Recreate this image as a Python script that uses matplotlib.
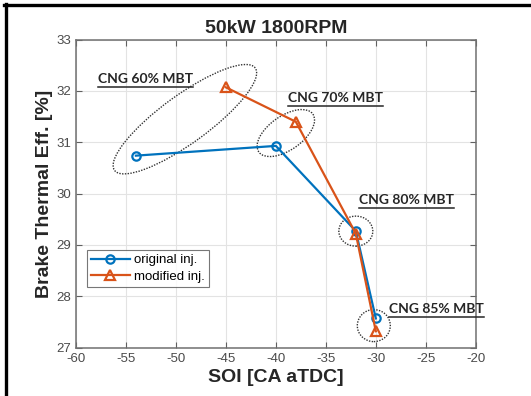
import matplotlib
matplotlib.use('Agg')
import matplotlib.pyplot as plt
from matplotlib.patches import Ellipse
from matplotlib.lines import Line2D
from matplotlib.transforms import ScaledTranslation

# data
soi_original = [-54, -40, -32, -30]
bte_original = [30.74, 30.93, 29.27, 27.57]
soi_modified = [-45, -38, -32, -30]
bte_modified = [32.07, 31.40, 29.22, 27.32]

# annotation groups: label, text anchor (data), ellipse centre (data), size in px, angle
labels = ['CNG 60% MBT', 'CNG 70% MBT', 'CNG 80% MBT', 'CNG 85% MBT']
label_xy = [(-57.8, 32.23), (-38.8, 31.86), (-31.7, 29.87), (-28.7, 27.75)]
ell_centre = [(-49.1, 31.45), (-39.0, 31.18), (-32.0, 29.27), (-30.2, 27.43)]
ell_size = [(174, 48), (66, 34), (34, 30), (33, 32)]
ell_angle = [36, 35, 0, 0]

BLUE = '#0072BD'
ORANGE = '#D95319'
DARK = '#262626'

plt.rcParams['font.family'] = ['Liberation Sans', 'DejaVu Sans']
plt.rcParams['axes.unicode_minus'] = False

fig = plt.figure(figsize=(5.31, 3.96), dpi=100)
ax = fig.add_axes([0.143, 0.122, 0.753, 0.778])

ax.plot(soi_original, bte_original, '-o', color=BLUE, lw=1.6, ms=6,
        mfc='none', mew=1.6, label='original inj.', zorder=3)
ax.plot(soi_modified, bte_modified, '-^', color=ORANGE, lw=1.6, ms=6.5,
        mfc='none', mew=1.6, label='modified inj.', zorder=3)

ax.set_xlim(-60, -20)
ax.set_ylim(27, 33)
ax.set_xticks(range(-60, -19, 5))
ax.set_yticks(range(27, 34))
ax.grid(True, color='#e3e3e3', lw=0.8)
ax.set_axisbelow(True)
ax.tick_params(direction='in', top=True, right=True, length=4, width=0.8,
               colors='#606060', labelcolor='#4a4a4a', labelsize=9.5)
for s in ax.spines.values():
    s.set_color('#707070')
    s.set_linewidth(1.1)

ax.set_title('50kW 1800RPM', fontsize=14, fontweight='bold', color=DARK, pad=5)
ax.set_xlabel('SOI [CA aTDC]', fontsize=14, fontweight='bold', color=DARK, labelpad=3)
ax.set_ylabel('Brake Thermal Eff. [%]', fontsize=14, fontweight='bold', color=DARK, labelpad=2)

leg = ax.legend(loc='lower left', bbox_to_anchor=(0.02, 0.19), fontsize=9.5,
                frameon=True, fancybox=False, edgecolor='#555555',
                handlelength=3.0, handletextpad=0.3, borderpad=0.3,
                labelspacing=0.3, borderaxespad=0.2)
leg.get_frame().set_linewidth(0.8)

# dotted ellipses, sized in screen units around a data-space centre
for (cx, cy), (w, h), ang in zip(ell_centre, ell_size, ell_angle):
    tr = fig.dpi_scale_trans + ScaledTranslation(cx, cy, ax.transData)
    ax.add_patch(Ellipse((0, 0), w / 100, h / 100, angle=ang, transform=tr,
                         fill=False, ls=(0, (1, 1)), lw=1.0, ec='#333333',
                         clip_on=False, zorder=2))

texts = []
for lab, (tx, ty) in zip(labels, label_xy):
    t = ax.text(tx, ty, lab, fontsize=10, fontweight='bold', family='Lato',
                color=DARK, ha='left', va='center', clip_on=False, zorder=4)
    texts.append(t)

# underline each label
fig.canvas.draw()
r = fig.canvas.get_renderer()
for t in texts:
    bb = t.get_window_extent(r)
    y = bb.y0 - 1.5
    fig.add_artist(Line2D([bb.x0 / fig.bbox.width, bb.x1 / fig.bbox.width],
                          [y / fig.bbox.height, y / fig.bbox.height],
                          color=DARK, lw=1.1))

# black frame on the top and left edge of the picture
fig.add_artist(Line2D([0.0075, 1], [0.9865, 0.9865], color='black', lw=2.4))
fig.add_artist(Line2D([0.0105, 0.0105], [0, 0.9895], color='black', lw=2.4))

fig.savefig('out.png', dpi=100)
